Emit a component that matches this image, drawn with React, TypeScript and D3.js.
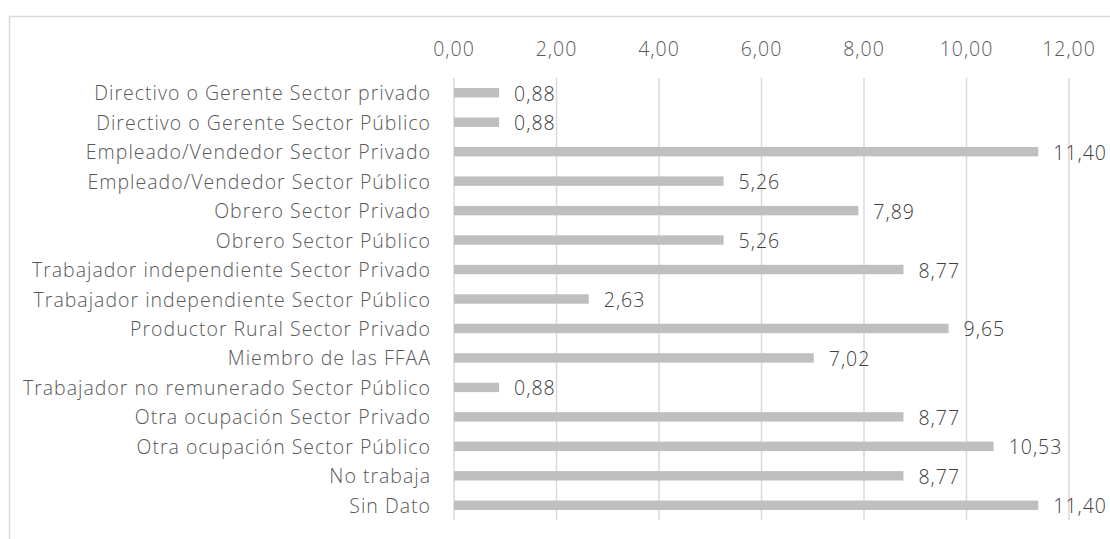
import React from "react";
import * as d3 from "d3";

const categories = [
  "Directivo o Gerente Sector privado",
  "Directivo o Gerente Sector Público",
  "Empleado/Vendedor Sector Privado",
  "Empleado/Vendedor Sector Público",
  "Obrero Sector Privado",
  "Obrero Sector Público",
  "Trabajador independiente Sector Privado",
  "Trabajador independiente Sector Público",
  "Productor Rural Sector Privado",
  "Miembro de las FFAA",
  "Trabajador no remunerado Sector Público",
  "Otra ocupación Sector Privado",
  "Otra ocupación Sector Público",
  "No trabaja",
  "Sin Dato",
];
const values = [0.88, 0.88, 11.4, 5.26, 7.89, 5.26, 8.77, 2.63, 9.65, 7.02, 0.88, 8.77, 10.53, 8.77, 11.4];
const ticks = [0, 2, 4, 6, 8, 10, 12];

const W = 1110;
const H = 539;
const left = 454;
const right = 1069;
const top = 78;
const bottom = 520;
const FONT = "'Open Sans', 'Noto Sans', sans-serif";
const FS = 19.5;
const LS = 1.0;
const fmt = (v: number) => v.toFixed(2).replace(".", ",");

export default function App() {
  const x = d3.scaleLinear().domain([0, 12]).range([left, right]);
  const y = d3.scaleBand<string>().domain(categories).range([top, bottom]).paddingInner(0.68).paddingOuter(0.34);
  return (
    <svg width={W} height={H} style={{ position: "absolute", left: 0, top: 0, background: "#fff" }}>
      <rect x={9.5} y={16.5} width={W + 20} height={H + 20} fill="none" stroke="#d9d9d9" strokeWidth={1.5} />
      {ticks.map((t) => (
        <g key={t}>
          <line x1={x(t)} x2={x(t)} y1={top} y2={bottom} stroke="#d9d9d9" strokeWidth={1.5} />
          <text x={x(t)} y={48} textAnchor="middle" dominantBaseline="central" fontFamily={FONT} fontWeight={300} fontSize={FS} letterSpacing={LS} fill="#595959">
            {fmt(t)}
          </text>
        </g>
      ))}
      {categories.map((c, i) => {
        const yc = (y(c) as number) + y.bandwidth() / 2;
        return (
          <g key={c}>
            <rect x={x(0)} y={y(c)} width={x(values[i]) - x(0)} height={y.bandwidth()} fill="#bfbfbf" />
            <text x={431} y={yc} textAnchor="end" dominantBaseline="central" fontFamily={FONT} fontWeight={300} fontSize={FS} letterSpacing={LS} fill="#595959">
              {c}
            </text>
            <text x={x(values[i]) + 15} y={yc + 0.5} dominantBaseline="central" fontFamily={FONT} fontWeight={300} fontSize={FS} letterSpacing={LS} fill="#404040">
              {fmt(values[i])}
            </text>
          </g>
        );
      })}
    </svg>
  );
}
